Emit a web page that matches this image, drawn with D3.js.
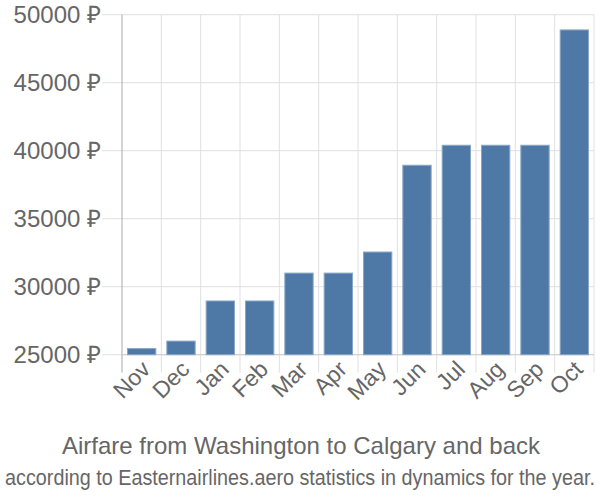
<!DOCTYPE html>
<html><head><meta charset="utf-8">
<script src="https://cdn.jsdelivr.net/npm/d3@7"></script>
<style>body{margin:0;background:#fff}svg{display:block}</style>
</head><body>
<svg id="chart" width="600" height="500"></svg>
<script>
const months = ["Nov","Dec","Jan","Feb","Mar","Apr","May","Jun","Jul","Aug","Sep","Oct"];
const prices = [25450, 26000, 28950, 28950, 31000, 31000, 32550, 38930, 40400, 40400, 40400, 48880];
const yTicks = [25000, 30000, 35000, 40000, 45000, 50000];
const title = "Airfare from Washington to Calgary and back";
const subtitle = "according to Easternairlines.aero statistics in dynamics for the year.";

(function () {
const svg = d3.select("#chart");
const pL = 122, pR = 594, pT = 14.7, pB = 354.7;
const x = d3.scaleBand().domain(months).range([pL, pR]).paddingInner(0.28).paddingOuter(0.14);
const xg = d3.scaleBand().domain(months).range([pL, pR]);
const y = d3.scaleLinear().domain([25000, 50000]).range([pB, pT]);
const font = "'Liberation Sans', Arial, sans-serif";

svg.append("g").selectAll("line").data(yTicks).join("line")
  .attr("x1", 102).attr("x2", pR)
  .attr("y1", d => y(d)).attr("y2", d => y(d))
  .attr("stroke", "#e0e0e0").attr("stroke-width", 1);
const vx = months.map(m => xg(m)).concat([pR]);
svg.append("g").selectAll("line").data(vx.slice(1)).join("line")
  .attr("x1", d => d).attr("x2", d => d)
  .attr("y1", pT).attr("y2", pB + 18)
  .attr("stroke", "#e0e0e0").attr("stroke-width", 1);
svg.append("line").attr("x1", pL).attr("x2", pL).attr("y1", pT).attr("y2", pB + 18)
  .attr("stroke", "#aaa").attr("stroke-width", 1);
svg.append("line").attr("x1", pL).attr("x2", pR).attr("y1", pB).attr("y2", pB)
  .attr("stroke", "#ccc").attr("stroke-width", 1);

svg.append("g").selectAll("rect").data(prices).join("rect")
  .attr("x", (d, i) => x(months[i]))
  .attr("width", x.bandwidth())
  .attr("y", d => y(d))
  .attr("height", d => pB - y(d))
  .attr("fill", "#4e79a7").attr("stroke", "#8aa6c6").attr("stroke-width", 1);

svg.append("g").selectAll("text").data(yTicks).join("text")
  .attr("x", 101).attr("y", d => y(d)).attr("dy", "0.35em")
  .attr("text-anchor", "end").attr("font-family", font).attr("font-size", 24)
  .attr("fill", "#666").text(d => d + " ₽");

svg.append("g").selectAll("text").data(months).join("text")
  .attr("transform", m => `translate(${xg(m) + xg.bandwidth()/2 + 10},${pB + 16}) rotate(-45)`)
  .attr("text-anchor", "end").attr("font-family", font).attr("font-size", 23)
  .attr("fill", "#666").text(m => m);

svg.append("text").attr("x", 301).attr("y", 454).attr("text-anchor", "middle")
  .attr("font-family", font).attr("font-size", 24).attr("fill", "#666").text(title);
const sub = svg.append("text").attr("x", 0).attr("y", 0).attr("text-anchor", "middle")
  .attr("font-family", font).attr("font-size", 22).attr("fill", "#666")
  .text(subtitle);
const w = sub.node().getComputedTextLength();
const sx = 590 / w;
sub.attr("transform", `translate(300,485) scale(${sx},1)`);
})();
</script>
</body></html>
